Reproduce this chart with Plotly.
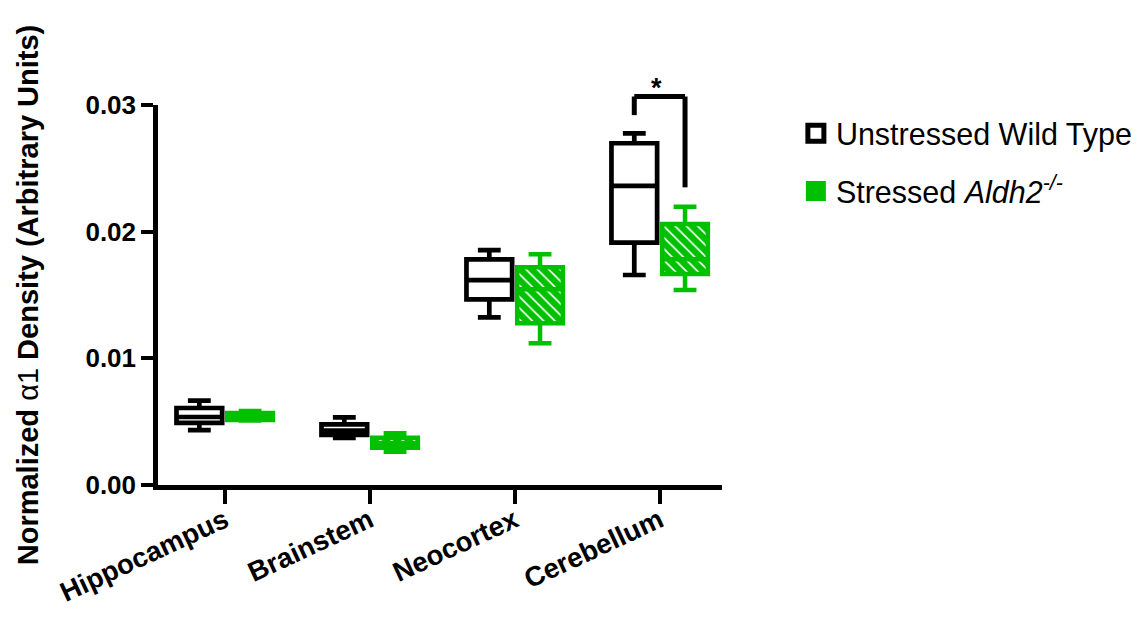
import plotly.graph_objects as go

categories = ["Hippocampus", "Brainstem", "Neocortex", "Cerebellum"]

wt_lower = [0.00434, 0.00371, 0.01324, 0.01658]
wt_q1 = [0.00490, 0.00395, 0.01466, 0.01913]
wt_median = [0.00537, 0.00430, 0.01618, 0.02361]
wt_q3 = [0.00608, 0.00479, 0.01782, 0.02698]
wt_upper = [0.00666, 0.00534, 0.01855, 0.02776]

ko_lower = [0.00510, 0.00263, 0.01119, 0.01540]
ko_q1 = [0.00513, 0.00295, 0.01276, 0.01666]
ko_median = [0.00540, 0.00330, 0.01545, 0.01782]
ko_q3 = [0.00568, 0.00373, 0.01719, 0.02061]
ko_upper = [0.00584, 0.00408, 0.01821, 0.02197]

y_ticks = [0.00, 0.01, 0.02, 0.03]
y_tick_labels = ["0.00", "0.01", "0.02", "0.03"]

series_names = ["Unstressed Wild Type", "Stressed <i>Aldh2<sup>-/-</sup></i>"]

# significance bracket (Cerebellum): top, left-end, right-end values
sig_category = 3
sig_top = 0.03067
sig_left_end = 0.0292
sig_right_end = 0.0235
sig_label = "*"

BLACK = "#000000"
GREEN = "#00C000"
Y_MAX = 0.03
BOXGAP = 0.30
BOXGROUPGAP = 0.10
slot = (1 - BOXGAP) / 2
box_w = slot * (1 - BOXGROUPGAP)

fig = go.Figure()

# hatched fill for the stressed group (drawn below the box outlines)
fig.add_trace(go.Bar(
    x=categories,
    y=[h - l for h, l in zip(ko_q3, ko_q1)],
    base=ko_q1,
    width=box_w,
    offset=slot / 2 - box_w / 2,
    marker=dict(color=GREEN, line=dict(width=0),
                pattern=dict(shape="\\", fgcolor="white", bgcolor=GREEN,
                             size=8, solidity=0.2, fillmode="replace")),
    showlegend=False,
    hoverinfo="skip",
))

fig.add_trace(go.Box(
    name=series_names[0],
    x=categories,
    q1=wt_q1, median=wt_median, q3=wt_q3,
    lowerfence=wt_lower, upperfence=wt_upper,
    fillcolor="white",
    line=dict(color=BLACK, width=4.7),
    whiskerwidth=0.5,
    showlegend=False,
))

fig.add_trace(go.Box(
    name=series_names[1],
    x=categories,
    q1=ko_q1, median=ko_median, q3=ko_q3,
    lowerfence=ko_lower, upperfence=ko_upper,
    fillcolor="rgba(0,0,0,0)",
    line=dict(color=GREEN, width=4.5),
    whiskerwidth=0.5,
    showlegend=False,
))

# legend entries
fig.add_trace(go.Scatter(
    x=[None], y=[None], mode="markers", name=series_names[0],
    marker=dict(symbol="square", size=16, color="white",
                line=dict(color=BLACK, width=5)),
    legendgroup="a",
))
fig.add_trace(go.Scatter(
    x=[None], y=[None], mode="markers", name=series_names[1],
    marker=dict(symbol="square", size=16, color=GREEN,
                line=dict(color=GREEN, width=4)),
    legendgroup="b",
))

# significance bracket
xl = sig_category - slot / 2
xr = sig_category + slot / 2
for (x0, y0, x1, y1) in [(xl, sig_left_end, xl, sig_top),
                         (xl, sig_top, xr, sig_top),
                         (xr, sig_top, xr, sig_right_end)]:
    fig.add_shape(type="line", xref="x", yref="paper",
                  x0=x0, x1=x1, y0=y0 / Y_MAX, y1=y1 / Y_MAX,
                  line=dict(color=BLACK, width=5), layer="above")
fig.add_annotation(x=sig_category, y=sig_top / Y_MAX, xref="x", yref="paper",
                   text="<b>" + sig_label + "</b>", showarrow=False,
                   yanchor="bottom", yshift=-8, xshift=-3,
                   font=dict(size=27, color=BLACK, family="Liberation Sans"))

fig.update_layout(
    width=1142, height=619,
    margin=dict(l=158, r=420, t=105, b=134, autoexpand=False),
    paper_bgcolor="white", plot_bgcolor="white",
    boxmode="group", boxgap=BOXGAP, boxgroupgap=BOXGROUPGAP,
    font=dict(family="Liberation Sans", color=BLACK),
    legend=dict(x=1.131, y=0.995, xanchor="left", yanchor="top",
                font=dict(size=30.5, family="Liberation Sans", color=BLACK),
                tracegroupgap=15, bgcolor="rgba(0,0,0,0)"),
    xaxis=dict(
        type="category", range=[-0.46, 3.43], automargin=False,
        showline=True, linecolor=BLACK, linewidth=4.5,
        ticks="outside", ticklen=14, tickwidth=4, tickcolor=BLACK,
        tickangle=-25, ticklabelstandoff=-10, showgrid=False, zeroline=False,
        tickfont=dict(size=27.5, family="Liberation Sans", color=BLACK, weight="bold"),
    ),
    yaxis=dict(
        range=[0, Y_MAX], automargin=False,
        tickvals=y_ticks, ticktext=y_tick_labels,
        showline=True, linecolor=BLACK, linewidth=4.5,
        ticks="outside", ticklen=12, tickwidth=4, tickcolor=BLACK,
        showgrid=False, zeroline=False,
        tickfont=dict(size=26, family="Liberation Sans", color=BLACK, weight="bold"),
        title=dict(text="<b>Normalized</b> α1 <b>Density (Arbitrary Units)</b>",
                   font=dict(size=29, family="Liberation Sans", color=BLACK),
                   standoff=40),
    ),
)

fig.write_html("out.html")
